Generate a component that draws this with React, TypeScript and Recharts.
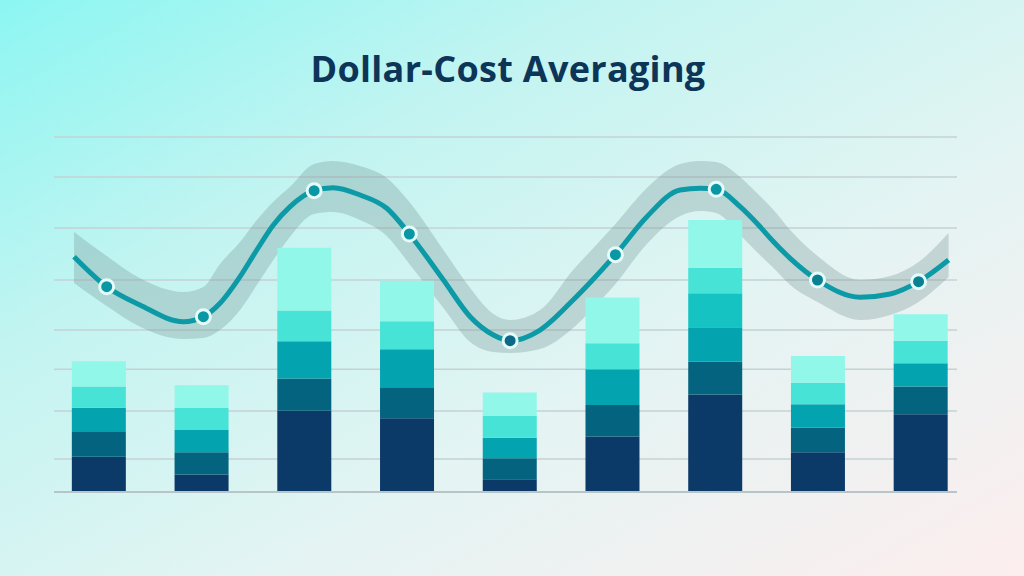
import {
  ComposedChart,
  Bar,
  Area,
  Line,
  XAxis,
  YAxis,
  CartesianGrid,
  ReferenceLine,
} from "recharts";

// nine purchase periods, stacked contributions (bottom → top)
const periods = [0, 1, 2, 3, 4, 5, 6, 7, 8];
const navy = [9.9, 4.9, 22.9, 20.8, 3.6, 15.6, 27.5, 11.2, 21.9];
const deepTeal = [7.2, 6.3, 9.1, 8.7, 5.9, 8.9, 9.2, 7.0, 7.8];
const teal = [6.6, 6.3, 10.5, 10.7, 5.8, 10.1, 9.7, 6.5, 6.6];
const brightTeal = [0, 0, 0, 0, 0, 0, 9.6, 0, 0];
const turquoise = [6.0, 6.2, 8.6, 7.9, 6.1, 7.3, 7.2, 6.1, 6.3];
const mint = [7.1, 6.4, 17.7, 11.4, 6.6, 12.9, 13.4, 7.5, 7.5];

// horizontal guide lines
const gridValues = [0, 9.3, 22.8, 34.6, 45.6, 59.7, 74.4, 88.7, 100];

// price curve and its shaded band
const curveX = [
  -0.245, 0.073, 0.397, 0.819, 1.014, 1.176, 1.371, 1.534, 1.695, 1.858, 2.092,
  2.277, 2.539, 2.799, 3.019, 3.351, 3.611, 3.837, 4.0, 4.292, 4.613, 4.811,
  5.025, 5.331, 5.655, 5.85, 6.006, 6.239, 6.402, 6.564, 6.726, 6.992, 7.408,
  7.7, 7.976, 8.268,
];
const curveY = [
  66.28, 57.83, 52.68, 47.97, 49.38, 53.15, 60.65, 68.17, 75.21, 80.37, 84.87,
  85.72, 83.66, 79.92, 72.68, 59.72, 49.38, 44.23, 42.62, 45.63, 54.08, 60.0,
  66.85, 77.55, 85.07, 85.55, 85.27, 80.37, 75.69, 70.51, 65.83, 59.72, 54.85,
  55.77, 59.24, 65.35,
];
const bandHigh = [
  73.24, 66.48, 60.2, 56.34, 57.75, 64.23, 70.42, 76.62, 81.77, 86.0, 92.39,
  93.24, 91.83, 88.45, 81.69, 68.17, 57.46, 50.14, 48.45, 51.27, 62.54, 68.73,
  75.49, 85.63, 92.39, 93.24, 92.96, 88.73, 84.23, 79.44, 73.8, 66.48, 59.72,
  60.85, 64.79, 72.96,
];
const bandLow = [
  58.87, 52.39, 46.56, 43.1, 43.38, 45.63, 51.27, 58.31, 65.35, 71.92, 78.31,
  78.87, 76.62, 72.11, 64.23, 51.83, 42.25, 39.44, 39.15, 40.28, 46.2, 51.83,
  58.59, 69.86, 77.75, 79.15, 78.59, 72.39, 67.61, 63.1, 58.31, 53.52, 48.45,
  49.86, 53.52, 60.56,
];

// purchase points on the curve
const dotX = [0.073, 1.014, 2.092, 3.019, 4.0, 5.025, 6.006, 6.992, 7.976];
const dotY = [57.83, 49.38, 84.87, 72.68, 42.62, 66.85, 85.27, 59.72, 59.24];

const xDomain: [number, number] = [-0.44, 8.35];

const barRows = periods.map((x, i) => ({
  x,
  navy: navy[i],
  deepTeal: deepTeal[i],
  teal: teal[i],
  brightTeal: brightTeal[i],
  turquoise: turquoise[i],
  mint: mint[i],
}));

const curveRows = curveX.map((x, i) => ({
  x,
  y: curveY[i],
  band: [bandLow[i], bandHigh[i]],
}));

const dotRows = dotX.map((x, i) => ({ x, y: dotY[i] }));

const PurchaseDot = (props: any) => {
  const { cx, cy, index } = props;
  if (cx == null || cy == null) return null;
  const fill = index === 4 ? "#0b6a86" : index >= 7 ? "#0a8093" : "#0a97a5";
  return (
    <circle cx={cx} cy={cy} r={7} fill={fill} stroke="#e4fbf9" strokeWidth={3} />
  );
};

export default function App() {
  return (
    <div
      style={{
        position: "absolute",
        left: 0,
        top: 0,
        width: 1024,
        height: 576,
        overflow: "hidden",
        background:
          "linear-gradient(to bottom right, #8cf6f2 0%, #c2f4f1 30%, #e3f4f3 62%, #fdeeee 100%)",
      }}
    >
      <div
        style={{
          position: "absolute",
          top: 49,
          left: 0,
          width: 1024,
          textAlign: "center",
          fontFamily: "'Open Sans', sans-serif",
          fontWeight: 700,
          fontSize: 36,
          letterSpacing: 0.3,
          lineHeight: "40px",
          color: "#0d3558",
          marginLeft: -4,
        }}
      >
        Dollar-Cost Averaging
      </div>
      <div style={{ position: "absolute", left: 0, top: 0 }}>
        <ComposedChart
          width={1024}
          height={576}
          data={barRows}
          margin={{ top: 137, right: 67, bottom: 84, left: 54 }}
        >
          <CartesianGrid
            vertical={false}
            stroke="#c4d2d5"
            strokeWidth={1.5}
            xAxisId="bars"
          />
          <XAxis
            xAxisId="bars"
            type="number"
            dataKey="x"
            domain={xDomain}
            allowDataOverflow
            hide
          />
          <XAxis
            xAxisId="curve"
            type="number"
            dataKey="x"
            domain={xDomain}
            allowDataOverflow
            hide
          />
          <YAxis
            type="number"
            domain={[0, 100]}
            ticks={gridValues}
            interval={0}
            allowDataOverflow
            hide
          />
          <Bar xAxisId="bars" dataKey="navy" stackId="s" fill="#0c3a68" barSize={54} isAnimationActive={false} />
          <Bar xAxisId="bars" dataKey="deepTeal" stackId="s" fill="#04647f" barSize={54} isAnimationActive={false} />
          <Bar xAxisId="bars" dataKey="teal" stackId="s" fill="#04a3b0" barSize={54} isAnimationActive={false} />
          <Bar xAxisId="bars" dataKey="brightTeal" stackId="s" fill="#14c3c2" barSize={54} isAnimationActive={false} />
          <Bar xAxisId="bars" dataKey="turquoise" stackId="s" fill="#47e3d6" barSize={54} isAnimationActive={false} />
          <Bar xAxisId="bars" dataKey="mint" stackId="s" fill="#90f7e9" barSize={54} isAnimationActive={false} />
          <ReferenceLine xAxisId="bars" y={0} stroke="#b7c5c8" strokeWidth={2} />
          <Area
            xAxisId="curve"
            data={curveRows}
            dataKey="band"
            type="monotone"
            stroke="none"
            fill="#6f8f90"
            fillOpacity={0.3}
            isAnimationActive={false}
          />
          <Line
            xAxisId="curve"
            data={curveRows}
            dataKey="y"
            type="monotone"
            stroke="#0c9aa6"
            strokeWidth={5}
            dot={false}
            isAnimationActive={false}
          />
          <Line
            xAxisId="curve"
            data={dotRows}
            dataKey="y"
            stroke="none"
            dot={<PurchaseDot />}
            activeDot={false}
            isAnimationActive={false}
          />
        </ComposedChart>
      </div>
    </div>
  );
}
